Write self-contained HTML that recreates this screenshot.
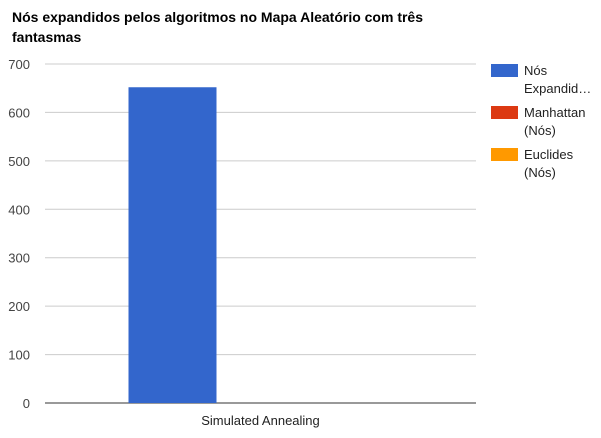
<!DOCTYPE html>
<html><head><meta charset="utf-8"><style>
body{margin:0;background:#fff;font-family:"Liberation Sans",Arial,sans-serif;}
svg text{font-family:"Liberation Sans",Arial,sans-serif;}
</style></head><body>
<svg id="chart" width="601" height="433" xmlns="http://www.w3.org/2000/svg">
<rect width="601" height="433" fill="#fff"/>
<text x="12" y="22" font-size="14" font-weight="bold" fill="#000">Nós expandidos pelos algoritmos no Mapa Aleatório com três</text>
<text x="12" y="42" font-size="14" font-weight="bold" fill="#000">fantasmas</text>
<g id="grid"></g><g id="bars"></g><g id="legend"></g>
</svg>
<script>
const categories = ["Simulated Annealing"];
const seriesNames = ["Nós Expandid…", "Manhattan (Nós)", "Euclides (Nós)"];
const nosExpandidos = [652];
const manhattan = [0];
const euclides = [0];
const yTicks = [0,100,200,300,400,500,600,700];
const seriesColors = ["#3366cc","#dc3912","#ff9900"];

const NS="http://www.w3.org/2000/svg";
const X0=45, X1=476, Y0=403, Y1=64, YMAX=700;
function yScale(v){return Y0-(v/YMAX)*(Y0-Y1);}
function mk(tag,attrs,parent){const e=document.createElementNS(NS,tag);for(const k in attrs)e.setAttribute(k,attrs[k]);parent.appendChild(e);return e;}
const grid=document.getElementById('grid');
yTicks.forEach(t=>{
  const y=yScale(t);
  const l=mk('line',{x1:X0,x2:X1,y1:y,y2:y,stroke:t===0?'#333':'#ccc','stroke-width':1},grid);
  
  
  const tx=mk('text',{x:30,y:y+5,'text-anchor':'end','font-size':13,fill:'#444'},grid);
  tx.textContent=t;
  
  
});
const bars=document.getElementById('bars');
const series=[nosExpandidos,manhattan,euclides];
const catW=(X1-X0)/categories.length;
categories.forEach((c,i)=>{
  const center=X0+catW*(i+0.5);
  const bw=88, gw=bw*series.length, gs=center-gw/2;
  series.forEach((s,j)=>{
    const v=s[i];
    const r=mk('rect',{x:gs+j*bw,y:yScale(v),width:bw,height:Y0-yScale(v),fill:seriesColors[j]},bars);
    
    
  });
  const tx=mk('text',{x:center,y:425,'text-anchor':'middle','font-size':13,fill:'#222'},bars);
  tx.textContent=c;
  
  
});
const leg=document.getElementById('legend');
const legendLines=[["Nós","Expandid…"],["Manhattan","(Nós)"],["Euclides","(Nós)"]];
legendLines.forEach((lines,j)=>{
  const y=64+j*42;
  const g=mk('g',{},leg);
  
  
  mk('rect',{x:491,y:y,width:27,height:13,fill:seriesColors[j]},g);
  lines.forEach((ln,k)=>{
    const t=mk('text',{x:524,y:y+11+k*18,'font-size':13,fill:'#222'},g);
    t.textContent=ln;
  });
});
</script>
</body></html>
